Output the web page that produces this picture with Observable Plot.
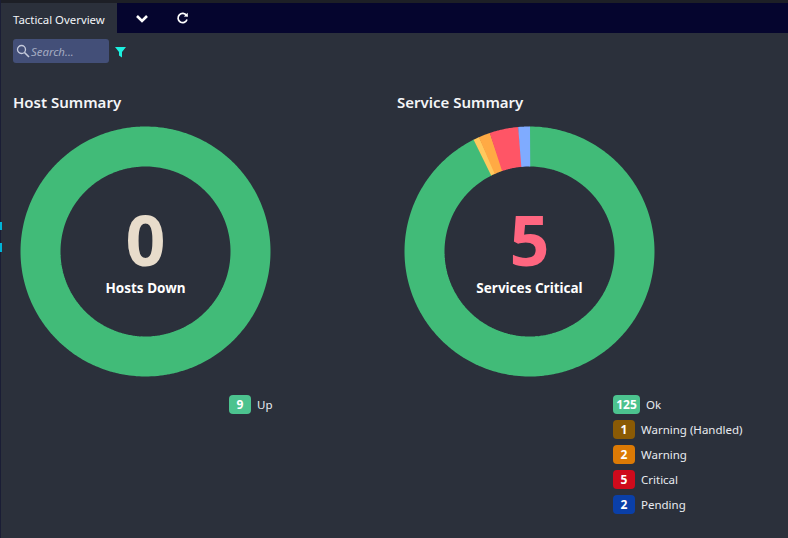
<!DOCTYPE html>
<html><head><meta charset="utf-8">
<script src="https://cdn.jsdelivr.net/npm/d3@7"></script>
<script src="https://cdn.jsdelivr.net/npm/@observablehq/plot@0.6"></script>
<style>
html,body{margin:0;padding:0;background:#2b303b;}
body{width:788px;height:538px;position:relative;overflow:hidden;font-family:"Noto Sans","Open Sans",sans-serif;color:#fff;}
.abs{position:absolute;}
#top{left:0;top:0;width:788px;height:3px;background:#1d1f26;}
#bar{left:117px;top:3px;width:671px;height:30px;background:#05052e;}
#edge{left:0;top:0;width:1px;height:538px;background:#1a1d35;}
.tab{left:13px;top:11px;font-size:11.4px;line-height:17px;color:#f2f4f8;}
#search{left:13px;top:39px;width:96px;height:24px;background:#434f78;border-radius:3px;}
#search span{position:absolute;left:18px;top:5px;font-size:11.4px;line-height:16px;font-style:italic;color:#a3abc2;}
h2{position:absolute;margin:0;font-size:15px;line-height:22px;font-weight:600;color:#f4f5f7;top:91px;}
.chart{position:absolute;top:115.5px;width:270px;height:270px;}
.chart svg{display:block;background:transparent;}
.leg{position:absolute;font-size:11.5px;line-height:18px;color:#e8ebf0;white-space:nowrap;}
.badge{position:absolute;top:0;height:19px;border-radius:4px;font-weight:700;font-size:12px;line-height:19px;text-align:center;color:#fff;}
.leg .t{position:absolute;top:0;line-height:19px;}
</style></head><body>
<div class="abs" id="top"></div><div class="abs" id="bar"></div><div class="abs" id="edge"></div>
<div class="abs" style="left:0;top:222px;width:2px;height:8px;background:#00b4d8"></div>
<div class="abs" style="left:0;top:243px;width:2px;height:9px;background:#00b4d8"></div>
<div class="abs tab">Tactical Overview</div>
<svg class="abs" style="left:135px;top:13px" width="14" height="12" viewBox="0 0 14 12"><path d="M2 3 L7 8 L12 3" fill="none" stroke="#fff" stroke-width="2.6"/></svg>
<svg class="abs" style="left:176px;top:12px" width="13" height="13" viewBox="0 0 13 13"><path d="M10.5 3.5 A4.6 4.6 0 1 0 11 7.5" fill="none" stroke="#fff" stroke-width="1.7"/><path d="M7.8 4.6 L12 4.8 L11.6 0.8 Z" fill="#fff"/></svg>
<div class="abs" id="search"><svg class="abs" style="left:3px;top:5px" width="14" height="14" viewBox="0 0 14 14"><circle cx="5.5" cy="5.5" r="4" fill="none" stroke="#c6cbdc" stroke-width="1.3"/><path d="M8.5 8.5 L13 13" stroke="#c6cbdc" stroke-width="1.6"/></svg><span>Search...</span></div>
<svg class="abs" style="left:115px;top:47px" width="11" height="11" viewBox="0 0 11 11"><path d="M0 0 H11 L7 5 V10.5 L4 8.5 V5 Z" fill="#1cf0e0"/></svg>
<h2 style="left:13px">Host Summary</h2>
<h2 style="left:397px">Service Summary</h2>
<div class="chart" id="host" style="left:9.5px"></div>
<div class="chart" id="service" style="left:393.5px"></div>
<div id="legends"></div>
<script>
const hostLabels = ["Up"];
const hostValues = [9];
const hostColors = ["#41bb78"];
const hostBadges = ["#4cc38f"];
const serviceLabels = ["Ok", "Warning (Handled)", "Warning", "Critical", "Pending"];
const serviceValues = [125, 1, 2, 5, 2];
const serviceColors = ["#41bb78", "#ffc95e", "#ffaa44", "#ff5566", "#7fabff"];
const serviceBadges = ["#4cc38f", "#8a5a05", "#dc7a05", "#cf0a1c", "#0a3fa8"];

function donut(target, labels, values, colors, big, bigColor, caption) {
  const pie = d3.pie().sort(null)(values);
  const ring = [];
  pie.forEach((s, i) => {
    const end = s.endAngle + 0.006;
    const n = Math.max(2, Math.ceil((end - s.startAngle) * 40));
    for (let k = 0; k <= n; k++) {
      const a = s.startAngle + (end - s.startAngle) * k / n;
      ring.push({label: labels[i], x: 105 * Math.sin(a), y: 105 * Math.cos(a)});
    }
  });
  const chart = Plot.plot({
    width: 270, height: 270, margin: 0,
    x: {domain: [-135, 135], axis: null},
    y: {domain: [-135, 135], axis: null},
    color: {domain: labels, range: colors},
    style: {background: "transparent"},
    marks: [
      Plot.line(ring, {x: "x", y: "y", z: "label", stroke: "label", strokeWidth: 40, strokeLinecap: "butt", strokeLinejoin: "round"}),
      Plot.text([big], {x: () => 0, y: () => 8, text: d => d, fill: bigColor, fontSize: 70, fontWeight: 700, fontFamily: "Noto Sans", textAnchor: "middle"}),
      Plot.text([caption], {x: () => 0, y: () => -37, text: d => d, fill: "#ffffff", fontSize: 13.5, fontWeight: 700, fontFamily: "Noto Sans", textAnchor: "middle"})
    ]
  });
  document.getElementById(target).appendChild(chart);
}
donut("host", hostLabels, hostValues, hostColors, "0", "#e8dccb", "Hosts Down");
donut("service", serviceLabels, serviceValues, serviceColors, "5", "#ff6680", "Services Critical");

function legend(left, labels, values, badges) {
  const root = document.getElementById("legends");
  const rows = labels.map((l, i) => [l, values[i], badges[i]]);
  rows.forEach(([l, v, c], i) => {
    const w = String(v).length > 1 ? 27 : 22;
    const row = document.createElement("div");
    row.className = "leg";
    row.style.left = left + "px";
    row.style.top = (395 + i * 25) + "px";
    row.innerHTML = `<div class="badge" style="left:0;width:${w}px;background:${c}">${v}</div><div class="t" style="left:${w + 6}px">${l}</div>`;
    root.appendChild(row);
  });
}
legend(229, hostLabels, hostValues, hostBadges);
legend(613, serviceLabels, serviceValues, serviceBadges);
</script>
</body></html>
